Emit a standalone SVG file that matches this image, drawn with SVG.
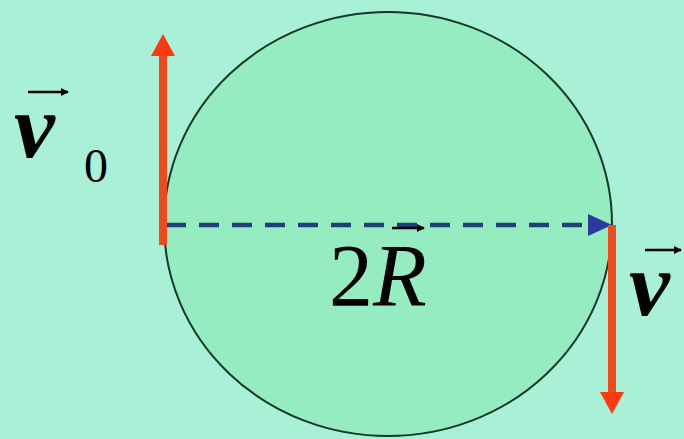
<svg xmlns="http://www.w3.org/2000/svg" width="684" height="439" viewBox="0 0 684 439">
<style>
.t{font-family:"Liberation Serif","Times New Roman",serif;fill:#000}
.vec{stroke:#000;stroke-width:2.5;fill:none}
.red{stroke:#EE4A1E;stroke-width:8;fill:none}
.head{fill:#FF3A10}
</style>
<defs>
<marker id="ah" markerWidth="8" markerHeight="8" refX="7" refY="4" orient="auto" markerUnits="userSpaceOnUse">
<path d="M0,0 L8,4 L0,8 Z" fill="#000"/>
</marker>
</defs>
<rect width="684" height="439" fill="#A8F0D6"/>
<g id="circle">
<ellipse cx="388" cy="224" rx="224" ry="212" fill="#95ECC0" stroke="#16382A" stroke-width="2"/>
</g>
<g id="connectors">
<line x1="166" y1="225" x2="595" y2="225" stroke="#1F3F78" stroke-width="4.5" stroke-dasharray="20 13"/>
<path d="M588,214 L612,225 L588,236 Z" fill="#2C3AA0"/>
</g>
<g id="v0-arrow">
<line class="red" x1="163" y1="245" x2="163" y2="52"/>
<path class="head" d="M151,56 L163,34 L175,56 Z"/>
</g>
<g id="v-arrow">
<line class="red" x1="612" y1="225" x2="612" y2="395"/>
<path class="head" d="M600,392 L612,414 L624,392 Z"/>
</g>
<g id="label-v0">
<line class="vec" x1="28" y1="92" x2="68" y2="92" marker-end="url(#ah)"/>
<text class="t" x="14" y="157" font-size="92" font-weight="bold" font-style="italic">v</text>
<text class="t" x="84" y="182" font-size="48">0</text>
</g>
<g id="label-2R">
<line class="vec" x1="392" y1="228" x2="424" y2="228" marker-end="url(#ah)"/>
<text class="t" x="329" y="305" font-size="88">2<tspan font-style="italic">R</tspan></text>
</g>
<g id="label-v">
<line class="vec" x1="645" y1="250" x2="681" y2="250" marker-end="url(#ah)"/>
<text class="t" x="629" y="315" font-size="92" font-weight="bold" font-style="italic">v</text>
</g>
</svg>
